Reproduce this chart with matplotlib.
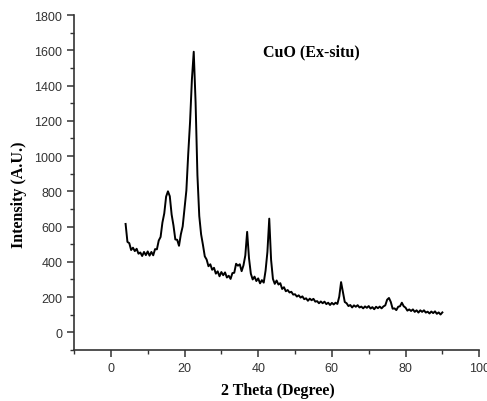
import numpy as np
import matplotlib
matplotlib.use("Agg")
import matplotlib.pyplot as plt
from matplotlib.ticker import MultipleLocator

# XRD scan: 2-theta from 4 to 90 degrees, 0.5 degree step
scan_start, scan_stop, scan_step = 4.0, 90.0, 0.5
intensity = [
    615, 513, 506, 467, 480, 461, 474, 446, 453, 433, 456, 438,
    459, 435, 456, 437, 472, 471, 521, 541, 623, 675, 770, 800,
    772, 668, 606, 527, 525, 491, 556, 601, 703, 805, 1011, 1193,
    1434, 1592, 1306, 892, 660, 556, 496, 431, 413, 375, 386, 355,
    366, 333, 346, 318, 342, 324, 340, 311, 321, 303, 336, 338,
    389, 378, 386, 347, 380, 436, 570, 421, 333, 300, 316, 291,
    306, 278, 296, 282, 350, 456, 645, 411, 303, 275, 294, 271,
    279, 246, 256, 233, 240, 226, 230, 214, 216, 203, 210, 197,
    204, 188, 193, 179, 191, 182, 190, 174, 177, 165, 175, 165,
    174, 160, 168, 155, 167, 158, 168, 161, 202, 285, 230, 172,
    165, 149, 155, 141, 153, 145, 154, 141, 146, 136, 147, 139,
    149, 135, 143, 131, 145, 137, 146, 136, 147, 153, 185, 195,
    172, 134, 136, 126, 145, 148, 168, 148, 140, 123, 130, 121,
    130, 116, 125, 112, 125, 116, 125, 112, 117, 107, 118, 109,
    119, 105, 113, 101, 113,
]
two_theta = scan_start + scan_step * np.arange(len(intensity))

x_major = [0, 20, 40, 60, 80, 100]
y_major = [0, 200, 400, 600, 800, 1000, 1200, 1400, 1600, 1800]
title_text = "CuO (Ex-situ)"
x_label = "2 Theta (Degree)"
y_label = "Intensity (A.U.)"

fig = plt.figure(figsize=(4.87, 4.02), dpi=100)
ax = fig.add_axes([0.152, 0.127, 0.832, 0.833])

ax.plot(two_theta, intensity, color="black", lw=1.4)

ax.set_xlim(-10, 100)
ax.set_ylim(-100, 1800)
ax.set_xticks(x_major)
ax.set_yticks(y_major)
ax.xaxis.set_minor_locator(MultipleLocator(10))
ax.yaxis.set_minor_locator(MultipleLocator(100))

for s in ("top", "right"):
    ax.spines[s].set_visible(False)
for s in ("left", "bottom"):
    ax.spines[s].set_linewidth(1.2)
    ax.spines[s].set_color("#333333")

ax.tick_params(which="major", direction="out", length=5, width=1.1,
               colors="#333333", labelsize=9, labelcolor="#333333")
ax.tick_params(which="minor", direction="out", length=3, width=1.0,
               colors="#333333")
for lab in ax.get_xticklabels() + ax.get_yticklabels():
    lab.set_fontfamily("Liberation Sans")

serif = "Liberation Serif"
ax.set_xlabel(x_label, fontfamily=serif, fontweight="bold", fontsize=11.5)
ax.set_ylabel(y_label, fontfamily=serif, fontweight="bold", fontsize=11.5)
ax.xaxis.set_label_coords(0.503, -0.119)
ax.yaxis.set_label_coords(-0.136, 0.466)
ax.xaxis.label.set_va("center")
ax.yaxis.label.set_va("center")
ax.text(54.4, 1593, title_text, fontfamily=serif, fontweight="bold",
        fontsize=11.5, ha="center", va="center")

fig.savefig("out.png", dpi=100)
